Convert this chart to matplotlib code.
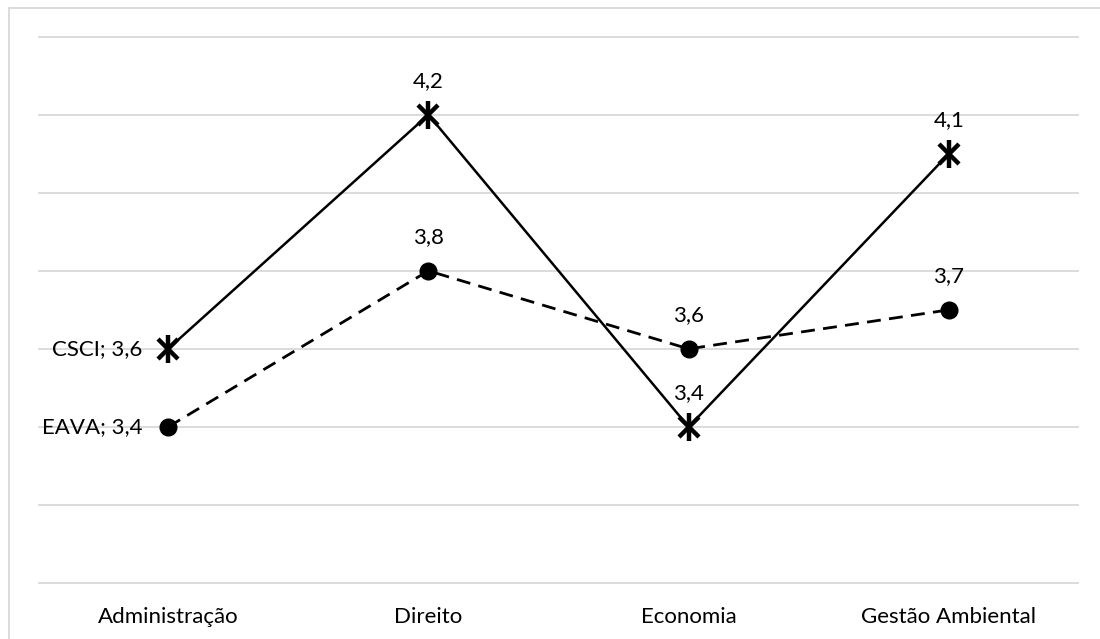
import matplotlib.pyplot as plt
from matplotlib.patches import Rectangle

# data
cursos = ['Administração', 'Direito', 'Economia', 'Gestão Ambiental']
csci = [3.6, 4.2, 3.4, 4.1]
eava = [3.4, 3.8, 3.6, 3.7]
grade = [3.0, 3.2, 3.4, 3.6, 3.8, 4.0, 4.2, 4.4]

plt.rcParams['font.family'] = ['Lato', 'DejaVu Sans']

fig = plt.figure(figsize=(11, 6.39), dpi=100)
ax = fig.add_axes([38 / 1100, 1 - 583 / 639, 1041 / 1100, (583 - 36.7) / 639])

# light frame around the chart area
fig.patches.append(Rectangle((8.5 / 1100, -0.1), 1.2, 1 - 7.5 / 639 + 0.1,
                             transform=fig.transFigure, fill=False,
                             edgecolor='#d9d9d9', linewidth=1.3, zorder=0))

x = list(range(len(cursos)))

# horizontal gridlines (not clipped at the edges)
ax.hlines(grade, -0.5, len(cursos) - 0.5, colors='#d9d9d9', linewidth=1.3,
          clip_on=False, zorder=1)

# CSCI: solid line with star markers (x + vertical bar)
ax.plot(x, csci, color='black', linewidth=1.8, zorder=3)
ax.plot(x, csci, linestyle='none', marker='x', markersize=15,
        markeredgewidth=3.2, color='black', zorder=4)
ax.plot(x, csci, linestyle='none', marker='|', markersize=20,
        markeredgewidth=3.2, color='black', zorder=4)

# EAVA: dashed line with round markers
ax.plot(x, eava, color='black', linewidth=2.0, linestyle=(0, (5, 3)),
        marker='o', markersize=12, zorder=3)

# value labels
fs = 16
for i, (c, e) in enumerate(zip(csci, eava)):
    c_txt = f'{c:.1f}'.replace('.', ',')
    e_txt = f'{e:.1f}'.replace('.', ',')
    if i == 0:
        ax.annotate(f'CSCI; {c_txt}', (i, c), xytext=(-26, 0),
                    textcoords='offset pixels', ha='right', va='center',
                    fontsize=fs)
        ax.annotate(f'EAVA; {e_txt}', (i, e), xytext=(-26, 0),
                    textcoords='offset pixels', ha='right', va='center',
                    fontsize=fs)
    else:
        ax.annotate(c_txt, (i, c), xytext=(0, 34), textcoords='offset pixels',
                    ha='center', va='center', fontsize=fs)
        ax.annotate(e_txt, (i, e), xytext=(0, 34), textcoords='offset pixels',
                    ha='center', va='center', fontsize=fs)

ax.set_xlim(-0.5, len(cursos) - 0.5)
ax.set_ylim(3.0, 4.4)
ax.set_yticks([])
ax.set_xticks(x)
ax.set_xticklabels(cursos, fontsize=fs)
ax.tick_params(axis='x', length=0, pad=17)
for s in ax.spines.values():
    s.set_visible(False)

fig.savefig('out.png', dpi=100)
